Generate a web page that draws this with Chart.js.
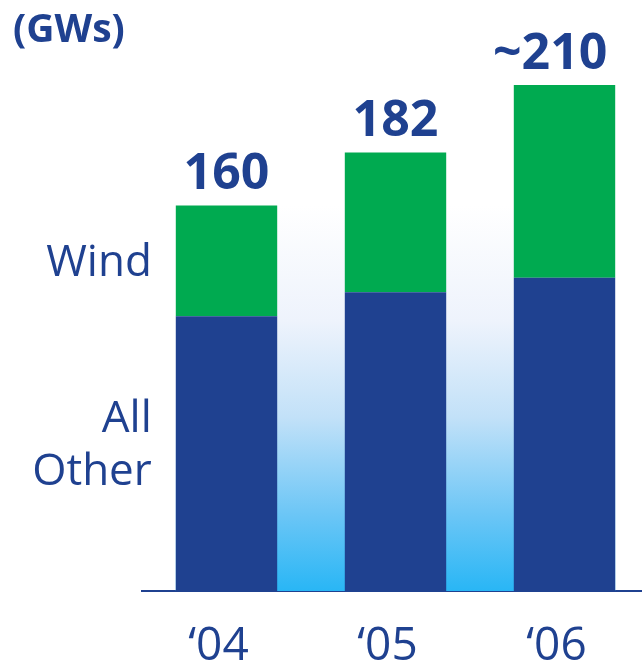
<!DOCTYPE html>
<html>
<head>
<meta charset="utf-8">
<script src="https://cdn.jsdelivr.net/npm/chart.js@4/dist/chart.umd.min.js"></script>
<style>
  html, body { margin: 0; padding: 0; background: #ffffff; overflow: hidden; }
  #wrap { width: 642px; height: 665px; overflow: hidden; position: relative; }
  canvas { display: block; }
</style>
</head>
<body>
<div id="wrap"><canvas id="chart" width="649" height="665"></canvas></div>
<script>
// Installed capacity, GW
const categories = ["\u201804", "\u201805", "\u201806"];
const allOther = [114, 124, 130];
const wind = [46, 58, 80];
const totalLabels = ["160", "182", "~210"];
const seriesNames = ["Wind", "All\nOther"];
const unitLabel = "(GWs)";

const NAVY = "#1f4190";
const GREEN = "#00aa50";
const FONT = "'Open Sans', 'Noto Sans', sans-serif";

// Sky-blue wash painted behind the bars
const backdrop = {
  id: "backdrop",
  beforeDatasetsDraw(chart) {
    const meta = chart.getDatasetMeta(0);
    const first = meta.data[0], last = meta.data[meta.data.length - 1];
    const left = first.x - first.width / 2;
    const right = last.x + last.width / 2;
    const top = chart.scales.y.getPixelForValue(allOther[0] + wind[0]);
    const bottom = chart.chartArea.bottom;
    const ctx = chart.ctx;
    const g = ctx.createLinearGradient(0, top, 0, bottom);
    g.addColorStop(0, "#ffffff");
    g.addColorStop(0.3, "#eef3fc");
    g.addColorStop(0.55, "#c2e1f8");
    g.addColorStop(0.8, "#6cc6f6");
    g.addColorStop(1, "#29b6f5");
    ctx.save();
    ctx.fillStyle = g;
    ctx.fillRect(left, top, right - left, bottom - top);
    ctx.restore();
  }
};

// Totals above the stacks, series names beside the first stack, unit caption
const annotations = {
  id: "annotations",
  afterDatasetsDraw(chart) {
    const ctx = chart.ctx;
    const base = chart.getDatasetMeta(0).data;
    const tops = chart.getDatasetMeta(1).data;
    ctx.save();
    ctx.fillStyle = NAVY;

    // totals
    ctx.font = "bold 50px " + FONT;
    ctx.textBaseline = "alphabetic";
    tops.forEach((bar, i) => {
      const txt = totalLabels[i];
      const m = txt.match(/^([^0-9]*)(.*)$/);
      const prefix = m[1], num = m[2];
      const y = bar.y - 16;
      ctx.textAlign = "center";
      ctx.fillText(num, bar.x, y);
      if (prefix) {
        const w = ctx.measureText(num).width;
        ctx.textAlign = "right";
        ctx.fillText(prefix, bar.x - w / 2, y);
      }
    });

    // series names beside the first stack
    ctx.font = "44px " + FONT;
    ctx.textAlign = "right";
    ctx.textBaseline = "middle";
    const b0 = base[0], t0 = tops[0];
    const xr = b0.x - b0.width / 2 - 24;
    const segs = [
      { name: seriesNames[0], mid: (t0.y + t0.base) / 2 + 3 },
      { name: seriesNames[1], mid: (b0.y + b0.base) / 2 - 8 }
    ];
    const lh = 53;
    segs.forEach(s => {
      const lines = s.name.split("\n");
      lines.forEach((ln, k) => {
        ctx.fillText(ln, xr, s.mid + (k - (lines.length - 1) / 2) * lh);
      });
    });

    // unit caption
    ctx.font = "bold 39px " + FONT;
    ctx.textAlign = "left";
    ctx.textBaseline = "alphabetic";
    ctx.fillText(unitLabel, 13, 42);
    ctx.restore();
  }
};

new Chart(document.getElementById("chart"), {
  type: "bar",
  data: {
    labels: categories,
    datasets: [
      { label: "All Other", data: allOther, backgroundColor: NAVY, borderWidth: 0,
        barPercentage: 1, categoryPercentage: 0.6 },
      { label: "Wind", data: wind, backgroundColor: GREEN, borderWidth: 0,
        barPercentage: 1, categoryPercentage: 0.6 }
    ]
  },
  options: {
    responsive: false,
    animation: false,
    layout: { padding: { left: 142, right: 0, top: 85, bottom: 0 } },
    plugins: { legend: { display: false }, tooltip: { enabled: false }, title: { display: false } },
    scales: {
      x: {
        stacked: true,
        grid: { display: false, drawTicks: false },
        border: { display: true, color: NAVY, width: 2 },
        ticks: { color: NAVY, padding: 33, labelOffset: -8, font: { family: FONT, size: 46, lineHeight: 1 } },
        afterFit(axis) { axis.height = 74; }
      },
      y: {
        stacked: true,
        display: false,
        min: 0,
        max: 210
      }
    }
  },
  plugins: [backdrop, annotations]
});
</script>
</body>
</html>
